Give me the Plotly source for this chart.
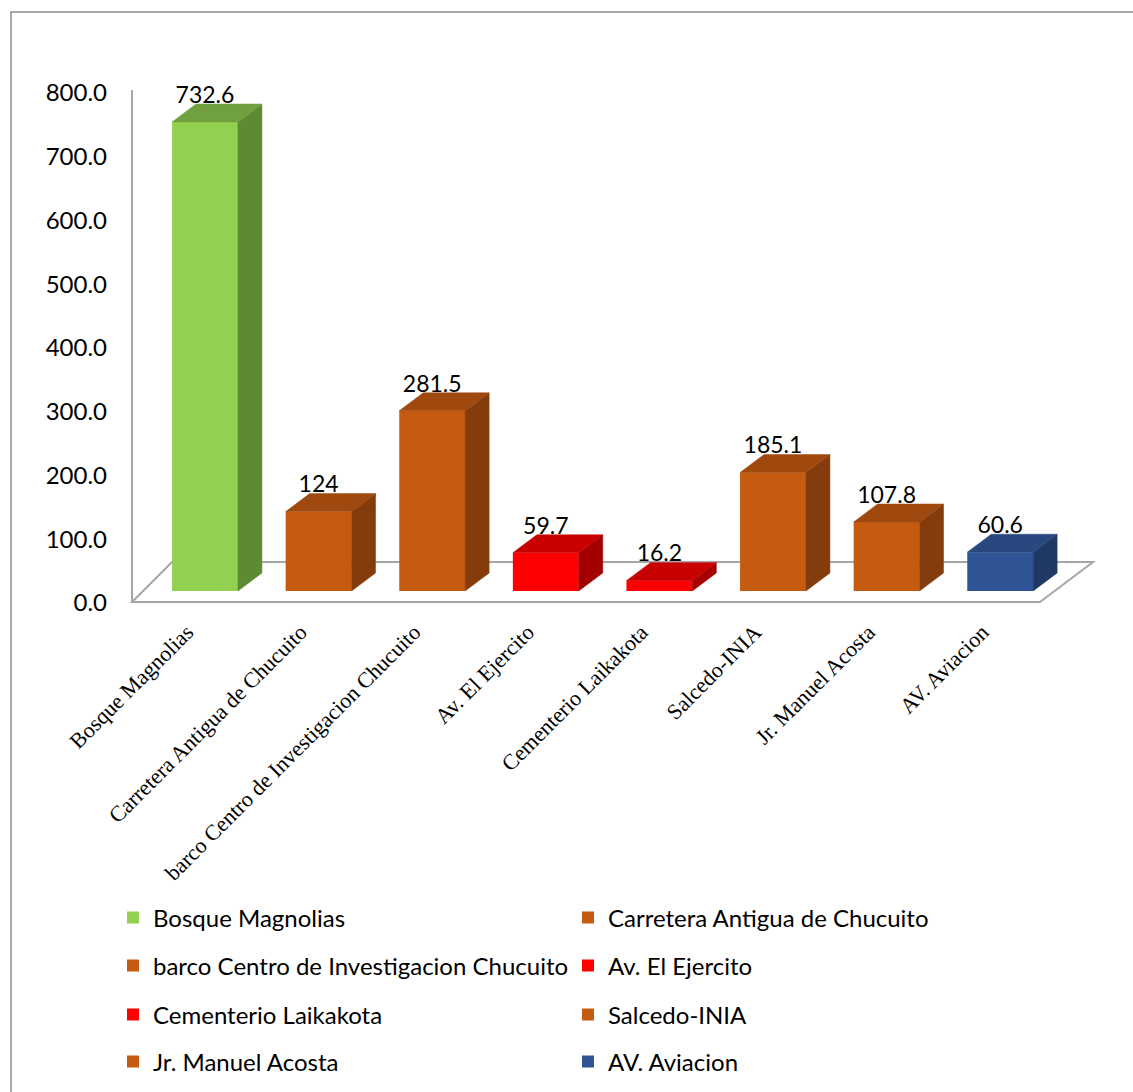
import plotly.graph_objects as go

# ---- data ----
categories = [
    "Bosque Magnolias",
    "Carretera Antigua de Chucuito",
    "barco Centro de Investigacion Chucuito",
    "Av. El Ejercito",
    "Cementerio Laikakota",
    "Salcedo-INIA",
    "Jr. Manuel Acosta",
    "AV. Aviacion",
]
values = [732.6, 124, 281.5, 59.7, 16.2, 185.1, 107.8, 60.6]
value_labels = ["732.6", "124", "281.5", "59.7", "16.2", "185.1", "107.8", "60.6"]
front_colors = ["#92D050", "#C55A11", "#C55A11", "#FF0000", "#FF0000", "#C55A11", "#C55A11", "#2F5597"]
top_colors = ["#71A03F", "#A0490F", "#A0490F", "#C80000", "#C80000", "#A0490F", "#A0490F", "#28487F"]
side_colors = ["#5E8A32", "#843C0C", "#843C0C", "#A50000", "#A50000", "#843C0C", "#843C0C", "#203864"]
y_ticks = [0, 100, 200, 300, 400, 500, 600, 700, 800]

# ---- canvas / plot-area geometry (pixels) ----
W, H = 1133, 1092
PL, PR, PT, PB = 115, 1110, 80, 610          # plot area edges
CAT0_PX, CAT_STEP = 205.0, 113.6             # first category centre, spacing
ZERO_PX, PX_PER_UNIT = 591.0, 0.6402         # front plane baseline and scale
TICK_ZERO_PX, TICK_PX_PER_UNIT = 603.0, 0.6375
BAR_W = 0.58                                  # bar width in category units
DEPTH_DX_PX, DEPTH_DY_PX = 24, 18             # bar depth projection


def xu(px):
    return (px - CAT0_PX) / CAT_STEP


def yu(py):
    return (ZERO_PX - py) / PX_PER_UNIT


def yt(py):
    return (TICK_ZERO_PX - py) / TICK_PX_PER_UNIT


def paper_x(px):
    return (px - PL) / (PR - PL)


def paper_y(py):
    return (PB - py) / (PB - PT)


dx = DEPTH_DX_PX / CAT_STEP
dy = DEPTH_DY_PX / PX_PER_UNIT

FONT = "Lato, 'Open Sans', sans-serif"
SERIF = "'Liberation Serif', 'Times New Roman', serif"

fig = go.Figure()

# front faces
for i, (cat, v) in enumerate(zip(categories, values)):
    fig.add_trace(go.Bar(
        x=[i], y=[v], width=BAR_W, name=cat,
        marker=dict(color=front_colors[i], line=dict(width=0)),
        legend="legend" if i == 0 else f"legend{i + 1}",
        hoverinfo="skip",
    ))

# side and top faces
for i, v in enumerate(values):
    xl, xr = i - BAR_W / 2, i + BAR_W / 2
    fig.add_trace(go.Scatter(
        x=[xr, xr + dx, xr + dx, xr, xr],
        y=[0, dy, v + dy, v, 0],
        mode="lines", fill="toself", fillcolor=side_colors[i],
        line=dict(color=side_colors[i], width=0.5),
        hoverinfo="skip", showlegend=False,
    ))
    fig.add_trace(go.Scatter(
        x=[xl, xr, xr + dx, xl + dx, xl],
        y=[v, v, v + dy, v + dy, v],
        mode="lines", fill="toself", fillcolor=top_colors[i],
        line=dict(color=top_colors[i], width=0.5),
        hoverinfo="skip", showlegend=False,
    ))

# value labels above each bar
fig.add_trace(go.Scatter(
    x=list(range(len(values))),
    y=[v + dy + 7 / PX_PER_UNIT for v in values],
    mode="text", text=value_labels, textposition="middle center",
    textfont=dict(family=FONT, size=23, color="black"),
    hoverinfo="skip", showlegend=False,
))

# vertical value axis line on the tick axis
fig.add_trace(go.Scatter(
    x=[xu(132), xu(132)], y=[0, yt(90)], yaxis="y2", mode="lines",
    line=dict(color="#A6A6A6", width=2),
    hoverinfo="skip", showlegend=False,
))

# floor outline, beneath the bars
floor_pts = [(xu(132), yu(602)), (xu(1040), yu(602)), (xu(1093), yu(562)), (xu(172), yu(562))]
floor_path = "M " + " L ".join(f"{px},{py}" for px, py in floor_pts) + " Z"

# legends: one per entry, two columns x four rows
legend_cols = [113, 568]
legend_rows = [918, 966, 1015, 1062]
legends = {}
for i in range(len(categories)):
    key = "legend" if i == 0 else f"legend{i + 1}"
    legends[key] = dict(
        x=paper_x(legend_cols[i % 2]), xanchor="left",
        y=paper_y(legend_rows[i // 2]), yanchor="middle",
        font=dict(family=FONT, size=24, color="black"),
        bgcolor="rgba(0,0,0,0)", borderwidth=0,
    )

fig.update_layout(
    width=W, height=H,
    margin=dict(l=PL, r=W - PR, t=PT, b=H - PB, pad=0, autoexpand=False),
    paper_bgcolor="white", plot_bgcolor="white",
    barmode="overlay",
    showlegend=True,
    xaxis=dict(
        range=[xu(PL), xu(PR)], tickvals=list(range(len(categories))),
        ticktext=categories, tickangle=-45,
        tickfont=dict(family=SERIF, size=22, color="black"),
        ticklabelshift=-18, ticklabelstandoff=4, automargin=False,
        showgrid=False, zeroline=False, showline=False, ticks="",
        fixedrange=True,
    ),
    yaxis=dict(
        range=[yu(PB), yu(PT)], visible=False, fixedrange=True,
        automargin=False,
    ),
    yaxis2=dict(
        range=[yt(PB), yt(PT)], overlaying="y", side="left",
        tickvals=y_ticks, tickformat=".1f",
        tickfont=dict(family=FONT, size=24, color="black"),
        ticklabelstandoff=7, automargin=False,
        showgrid=False, zeroline=False, showline=False, ticks="",
        fixedrange=True,
    ),
    shapes=[
        dict(
            type="rect", xref="paper", yref="paper",
            x0=paper_x(11), x1=paper_x(W + 20),
            y0=paper_y(H + 20), y1=paper_y(12),
            line=dict(color="#8C8C8C", width=1.5), layer="below",
        ),
        dict(
            type="path", xref="x", yref="y", path=floor_path,
            line=dict(color="#A6A6A6", width=2), fillcolor="white",
            layer="below",
        ),
    ],
    **legends,
)

fig.write_html("out.html")
